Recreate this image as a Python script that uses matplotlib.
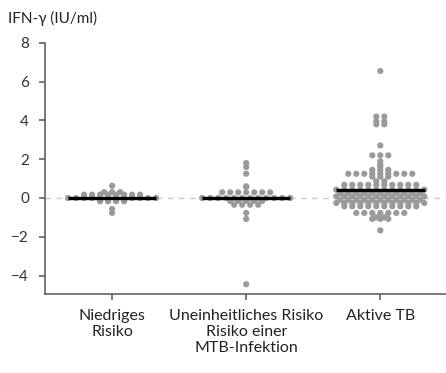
import numpy as np
import matplotlib
matplotlib.use("Agg")
import matplotlib.pyplot as plt

# IFN-gamma values (IU/ml)
categories = ["Niedriges\nRisiko", "Uneinheitliches Risiko\nRisiko einer\nMTB-Infektion", "Aktive TB"]

low_risk = ([0.63, 0.3, 0.3, 0.3] + [0.17] * 8 + [0.0] * 12 +
            [-0.17] * 4 + [-0.57, -0.77])

mixed_risk = ([1.8, 1.6, 1.25, 0.6, 0.57] + [0.29] * 7 + [0.0] * 12 +
              [-0.15] * 5 + [-0.35] * 4 + [-0.77, -1.08, -4.45])

active_tb = ([6.55, 4.2, 4.2, 3.95, 3.95, 3.8, 3.8, 2.71, 2.2, 2.2, 2.2,
              1.89, 1.72, 1.63] + [1.45] * 3 + [1.25] * 9 + [1.1] * 3 +
             [0.86] * 2 + [0.68] * 10 + [0.43] * 12 +
             [0.26] * 11 + [0.08] * 12 + [-0.09] * 11 + [-0.26] * 12 +
             [-0.43] * 10 + [-0.77] * 7 + [-1.0] * 2 + [-1.08] * 3 + [-1.67])

center_lines = [0.0, 0.0, 0.43]

groups = [low_risk, mixed_risk, active_tb]

plt.rcParams['font.family'] = ['Lato', 'DejaVu Sans']

fig = plt.figure(figsize=(4.46, 3.73), dpi=100)
ax = fig.add_axes([0.101, 0.212, 0.899, 0.673])
ax.set_xlim(-0.5, 2.49)
ax.set_ylim(-4.95, 8)


def spread(vals, x0, step_px=8.0):
    """scatter-dot layout: equal values are set side by side in one row"""
    vals = np.asarray(vals)
    pts = ax.transData.transform(np.column_stack([np.full(len(vals), x0), vals]))
    ys = pts[:, 1]
    cx = pts[0, 0]
    xs = np.zeros(len(vals))
    for v in np.unique(vals):
        idx = np.where(vals == v)[0]
        n = len(idx)
        xs[idx] = (np.arange(n) - (n - 1) / 2) * step_px
    back = ax.transData.inverted().transform(np.column_stack([cx + xs, ys]))
    return back[:, 0]


ax.axhline(0, color='#c8c8c8', lw=1.0, ls=(0, (4, 4)), zorder=1)

for i, vals in enumerate(groups):
    xs = spread(vals, i)
    ax.scatter(xs, vals, s=20, color='#9a9a9a', edgecolors='none', zorder=2)
    ax.plot([i - 0.33, i + 0.33], [center_lines[i]] * 2, color='black',
            lw=2.4, solid_capstyle='butt', zorder=3)

ax.set_xticks(range(3))
ax.set_xticklabels(categories, fontsize=11.5, color='#222222')
ax.set_yticks([-4, -2, 0, 2, 4, 6, 8])
ax.set_yticklabels(['\u22124', '\u22122', '0', '2', '4', '6', '8'], fontsize=11, color='#333333')

for side in ['top', 'right']:
    ax.spines[side].set_visible(False)
for side in ['left', 'bottom']:
    ax.spines[side].set_color('#555555')
    ax.spines[side].set_linewidth(1.1)
ax.tick_params(axis='both', direction='out', length=4.5, width=1.1, color='#555555')
ax.tick_params(axis='y', pad=7)
ax.tick_params(axis='x', pad=6)

fig.text(0.018, 0.938, 'IFN-\u03b3 (IU/ml)', fontsize=11, color='#222222', va='baseline')

fig.savefig('out.png', dpi=100)
